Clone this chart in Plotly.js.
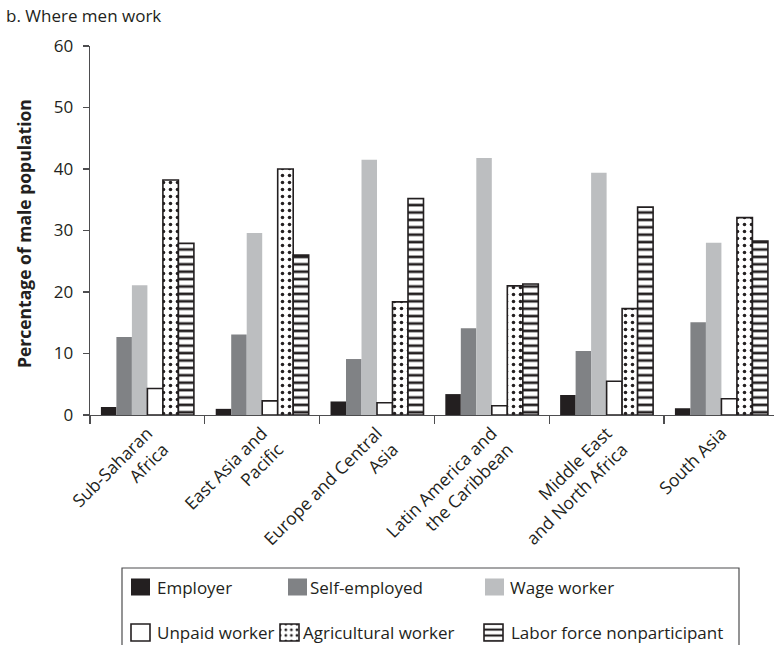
<!DOCTYPE html>
<html>
<head>
<meta charset="utf-8">
<script src="https://cdn.plot.ly/plotly-3.0.1.min.js"></script>
<style>
  html, body { margin: 0; padding: 0; background: #ffffff; }
  #chart { width: 774px; height: 645px; }
</style>
</head>
<body>
<div id="chart"></div>
<script>
// ---- Data ----
const regions = [
  "Sub-Saharan<br>Africa",
  "East Asia and<br>Pacific",
  "Europe and Central<br>Asia",
  "Latin America and<br>the Caribbean",
  "Middle East<br>and North Africa",
  "South Asia"
];
const employer      = [1.3, 1.0, 2.2, 3.4, 3.25, 1.1];
const selfEmployed  = [12.7, 13.1, 9.1, 14.1, 10.4, 15.1];
const wageWorker    = [21.1, 29.6, 41.5, 41.8, 39.4, 28.0];
const unpaidWorker  = [4.3, 2.3, 2.0, 1.5, 5.5, 2.65];
const agricultural  = [38.2, 40.0, 18.4, 21.0, 17.3, 32.1];
const nonparticipant= [27.9, 26.0, 35.2, 21.3, 33.8, 28.3];
const yTicks = [0, 10, 20, 30, 40, 50, 60];
const yTitle = "Percentage of male population";

const FONT = "Open Sans, Noto Sans, Liberation Sans, sans-serif";
const TXT = "#231f20";

const traces = [
  { name: "Employer", y: employer, legend: "legend",
    marker: { color: "#231f20", line: { width: 0 } } },
  { name: "Self-employed", y: selfEmployed, legend: "legend2",
    marker: { color: "#808285", line: { width: 0 } } },
  { name: "Wage worker", y: wageWorker, legend: "legend3",
    marker: { color: "#bcbec0", line: { width: 0 } } },
  { name: "Unpaid worker", y: unpaidWorker, legend: "legend4",
    marker: { color: "#ffffff", line: { color: "#231f20", width: 1.6 } } },
  { name: "Agricultural worker", y: agricultural, legend: "legend5",
    marker: { color: "#ffffff", line: { color: "#231f20", width: 1.6 },
      pattern: { shape: ".", fgcolor: "#231f20", bgcolor: "#ffffff", size: 7, solidity: 0.2, fillmode: "replace" } } },
  { name: "Labor force nonparticipant", y: nonparticipant, legend: "legend6",
    marker: { color: "#ffffff", line: { color: "#231f20", width: 1.6 },
      pattern: { shape: "-", fgcolor: "#231f20", bgcolor: "#ffffff", size: 7.4, solidity: 0.36, fillmode: "replace" } } }
].map(t => Object.assign({ type: "bar", x: regions, hoverinfo: "skip" }, t));

const W = 774, H = 645;
function legendAt(textX, centerY) {
  return {
    xref: "container", yref: "container",
    x: (textX - 40) / W, y: 1 - centerY / H,
    xanchor: "left", yanchor: "middle",
    bgcolor: "rgba(0,0,0,0)", borderwidth: 0,
    font: { family: FONT, size: 17, color: TXT },
    itemwidth: 30
  };
}

const layout = {
  width: W, height: H,
  margin: { l: 90, r: 0, t: 46, b: 230, autoexpand: false },
  paper_bgcolor: "#ffffff", plot_bgcolor: "#ffffff",
  font: { family: FONT, size: 17, color: TXT },
  title: {
    text: "b. Where men work",
    xref: "container", yref: "container",
    x: 6 / W, xanchor: "left",
    y: 1 - 16 / H, yanchor: "middle",
    font: { family: FONT, size: 17, color: TXT }
  },
  barmode: "group",
  bargap: 0.19,
  bargroupgap: 0,
  xaxis: {
    type: "category",
    automargin: false,
    range: [-0.5, 5.458],
    tickson: "boundaries",
    ticks: "outside", ticklen: 8, tickwidth: 1.3, tickcolor: "#4d4d4f",
    showline: true, linecolor: "#4d4d4f", linewidth: 1.3,
    showgrid: false, zeroline: false,
    tickangle: -45,
    tickfont: { family: FONT, size: 17.5, color: TXT }
  },
  yaxis: {
    automargin: false,
    range: [0, 60],
    tickvals: yTicks,
    ticktext: yTicks.map(String),
    ticks: "outside", ticklen: 6, tickwidth: 1.3, tickcolor: "#4d4d4f",
    showline: true, linecolor: "#4d4d4f", linewidth: 1.3,
    showgrid: false, zeroline: false,
    ticklabelstandoff: 6,
    tickfont: { family: FONT, size: 17, color: TXT }
  },
  annotations: [{
    text: "<b>" + yTitle + "</b>",
    xref: "paper", yref: "paper",
    x: (24 - 90) / 684, y: (415 - 234) / 369,
    xanchor: "center", yanchor: "middle",
    textangle: -90, showarrow: false,
    font: { family: FONT, size: 17.5, color: TXT }
  }],
  showlegend: true,
  legend:  legendAt(157, 587.5),
  legend2: legendAt(310, 587.5),
  legend3: legendAt(510, 587.5),
  legend4: legendAt(157, 633),
  legend5: legendAt(303, 633),
  legend6: legendAt(511, 633),
  shapes: [{
    type: "rect", xref: "paper", yref: "paper",
    x0: (122 - 90) / 684, x1: (739 - 90) / 684,
    y0: (415 - 568) / 369, y1: (415 - 660) / 369,
    line: { color: "#4d4d4f", width: 1.2 }, fillcolor: "rgba(0,0,0,0)", layer: "above"
  }]
};

// legend swatch geometry tweak (size and horizontal offset of the swatch relative to its text)
const swatchShift = { legend: 3.5, legend2: 7.5, legend3: 4.5, legend4: 3.5, legend5: 6.5, legend6: 2.5 };

function enlargeSwatches(gd) {
  Object.keys(swatchShift).forEach(function (id) {
    const groups = gd.querySelectorAll("g." + id);
    const s = swatchShift[id];
    groups.forEach(function (g) {
      g.querySelectorAll(".legendpoints path").forEach(function (p) {
        const a = (-9.5 + s).toFixed(1), b = (9.5 + s).toFixed(1);
        p.setAttribute("d", "M" + b + ",8.5H" + a + "V-8.5H" + b + "Z");
      });
    });
  });
}

Plotly.newPlot("chart", traces, layout, { staticPlot: true, displayModeBar: false }).then(function (gd) {
  enlargeSwatches(gd);
  setTimeout(function () { enlargeSwatches(gd); }, 50);
});
</script>
</body>
</html>
